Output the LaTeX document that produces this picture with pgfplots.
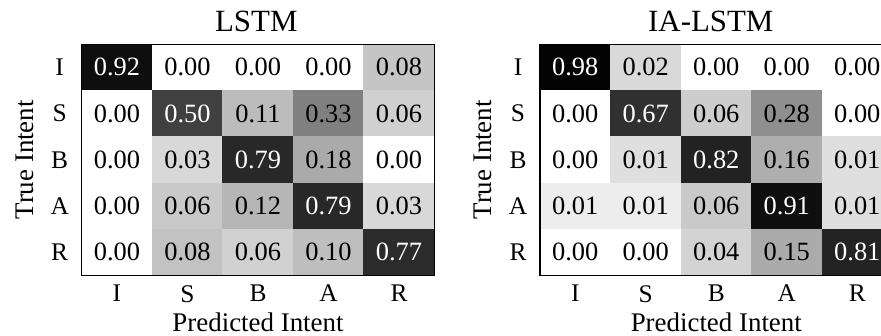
\documentclass[border=0pt]{standalone}
\usepackage{pgfplots}
\pgfplotsset{compat=1.18}
\usepackage{pgfplotstable}
\usepackage{fontspec}
\setmainfont{Liberation Serif}

% x = predicted, y = true (0=I,1=S,2=B,3=A,4=R), v = value, s = cell grey level (0..255)
\pgfplotstableread{
x y v s
0 0 0.92 14
1 0 0.00 255
2 0 0.00 255
3 0 0.00 255
4 0 0.08 196
0 1 0.00 255
1 1 0.50 64
2 1 0.11 187
3 1 0.33 127
4 1 0.06 207
0 2 0.00 255
1 2 0.03 214
2 2 0.79 40
3 2 0.18 169
4 2 0.00 255
0 3 0.00 255
1 3 0.06 200
2 3 0.12 181
3 3 0.79 40
4 3 0.03 214
0 4 0.00 255
1 4 0.08 193
2 4 0.06 208
3 4 0.10 189
4 4 0.77 43
}\lstmdata

\pgfplotstableread{
x y v s
0 0 0.98 3
1 0 0.02 215
2 0 0.00 255
3 0 0.00 255
4 0 0.00 255
0 1 0.00 255
1 1 0.67 48
2 1 0.06 204
3 1 0.28 142
4 1 0.00 255
0 2 0.00 255
1 2 0.01 221
2 2 0.82 34
3 2 0.16 173
4 2 0.01 221
0 3 0.01 235
1 3 0.01 235
2 3 0.06 200
3 3 0.91 15
4 3 0.01 221
0 4 0.00 255
1 4 0.00 255
2 4 0.04 210
3 4 0.15 170
4 4 0.81 35
}\ialstmdata

\pgfplotsset{
  cm/.style={
    width=352.6bp, height=231bp, scale only axis, anchor=south west,
    xmin=-0.5, xmax=4.5, ymin=-0.5, ymax=4.5, y dir=reverse,
    enlargelimits=false, axis on top, clip marker paths=true,
    xtick={0,...,4}, ytick={0,...,4},
    xticklabels={I,S,B,A,R}, yticklabels={I,S,B,A,R},
    major tick length=0pt,
    axis line style={line width=1.2bp, black},
    colormap={bw}{gray(0cm)=(0); gray(1cm)=(1)},
    xticklabel style={font=\fontsize{25.5}{25.5}\selectfont, inner sep=0pt, anchor=north, yshift=-9.7bp},
    yticklabel style={font=\fontsize{25.5}{25.5}\selectfont, inner sep=0pt, anchor=center, xshift=-22bp},
    xlabel={\fontsize{27}{27}\selectfont Predicted Intent}, ylabel={\fontsize{27}{27}\selectfont True Intent},
    xlabel style={at={(axis description cs:0.5,-0.2445)}, anchor=base, inner sep=0pt},
    ylabel style={at={(axis description cs:-0.1373,0.5)}, anchor=base, inner sep=0pt},
    title style={anchor=base, inner sep=0pt},
  },
  cells/.style={
    scatter, only marks, mark=square*, mark size=23.1bp,
    mark options={xscale=1.5264, line width=0.6bp},
    point meta=explicit, point meta min=0, point meta max=255,
    scatter/use mapped color={draw=mapped color, fill=mapped color},
  },
  cell labels/.style={
    only marks, mark=none, point meta=explicit symbolic,
    nodes near coords, nodes near coords align={center},
    every node near coord/.append style={font=\fontsize{26.5}{26.5}\selectfont, anchor=center, inner sep=0pt, text=#1},
  },
}

\begin{document}
\begin{tikzpicture}
\useasboundingbox (0,0) rectangle (881bp,336bp);
\begin{axis}[cm, at={(81.7bp,60.7bp)}, title={\fontsize{31}{31}\selectfont LSTM},
  title style={at={(axis description cs:0.4952,1.0286)}}]
\addplot[cells] table[x=x, y=y, meta=s] {\lstmdata};
\addplot[cell labels=black, restrict expr to domain={\thisrow{v}}{0:0.45}] table[x=x, y=y, meta=v] {\lstmdata};
\addplot[cell labels=white, restrict expr to domain={\thisrow{v}}{0.45:1}] table[x=x, y=y, meta=v] {\lstmdata};
\end{axis}
\begin{axis}[cm, at={(540bp,60.7bp)}, title={\fontsize{31}{31}\selectfont IA-LSTM},
  title style={at={(axis description cs:0.4844,1.0286)}}]
\addplot[cells] table[x=x, y=y, meta=s] {\ialstmdata};
\addplot[cell labels=black, restrict expr to domain={\thisrow{v}}{0:0.45}] table[x=x, y=y, meta=v] {\ialstmdata};
\addplot[cell labels=white, restrict expr to domain={\thisrow{v}}{0.45:1}] table[x=x, y=y, meta=v] {\ialstmdata};
\end{axis}
\end{tikzpicture}
\end{document}
